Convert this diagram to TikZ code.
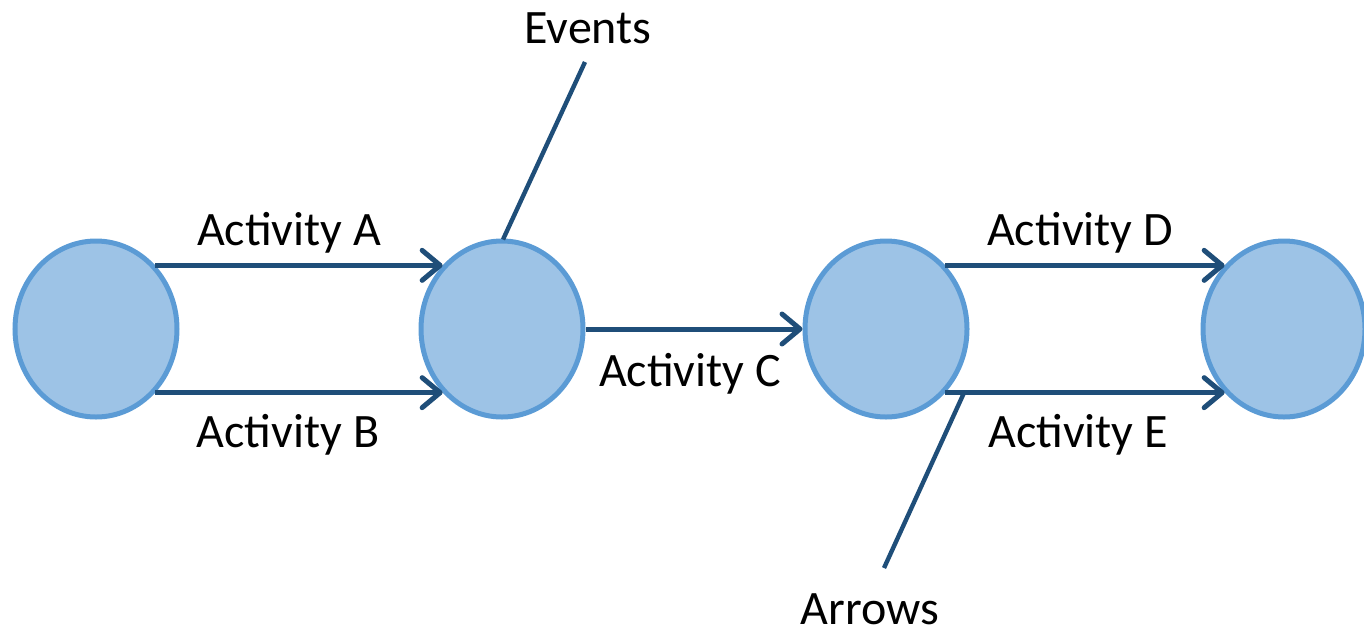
\documentclass[tikz,border=0pt]{standalone}
\usepackage{fontspec}
\setmainfont{Carlito}
\usetikzlibrary{arrows.meta,shapes.geometric}
\definecolor{evfill}{HTML}{9DC3E6}
\definecolor{evborder}{HTML}{5B9BD5}
\definecolor{arrowblue}{HTML}{1F4E79}
\tikzset{
  event/.style={ellipse, draw=evborder, fill=evfill, line width=2.5pt, minimum width=81pt, minimum height=88pt, inner sep=0pt},
  activity/.style={draw=arrowblue, line width=2.5pt, -{Straight Barb[length=9pt,width=15pt,line cap=round,line join=round]}},
  callout/.style={draw=arrowblue, line width=2.2pt},
  lbl/.style={font=\fontsize{24pt}{28pt}\selectfont, inner sep=0pt}
}
\begin{document}
\begin{tikzpicture}[x=0.5pt,y=-0.5pt]
\useasboundingbox (0,0) rectangle (1364,632);
\node[event] (e1) at (96,329) {};
\node[event] (e2) at (502,329) {};
\node[event] (e3) at (886,329) {};
\node[event] (e4) at (1284,329) {};
\draw[activity] (e1.47) -- (e2.133);
\draw[activity] (e1.-47) -- (e2.-133);
\draw[activity] (e2.east) -- (e3.west);
\draw[activity] (e3.47) -- (e4.133);
\draw[activity] (e3.-47) -- coordinate[pos=0.067] (onE) (e4.-133);
\node[lbl] (la) at (289,233) {Activity A};
\node[lbl] (lb) at (288,435) {Activity B};
\node[lbl] (lc) at (690,374) {Activity C};
\node[lbl] (ld) at (1080,233) {Activity D};
\node[lbl] (le) at (1078,435) {Activity E};
\node[lbl] (events) at (588,28) {Events};
\node[lbl] (arrows) at (870,609) {Arrows};
\coordinate (evend) at (585,62);
\coordinate (arend) at (884,568);
\draw[callout] (e2.north) ++(1,1) -- (evend);
\draw[callout] (onE) -- (arend);
\end{tikzpicture}
\end{document}
